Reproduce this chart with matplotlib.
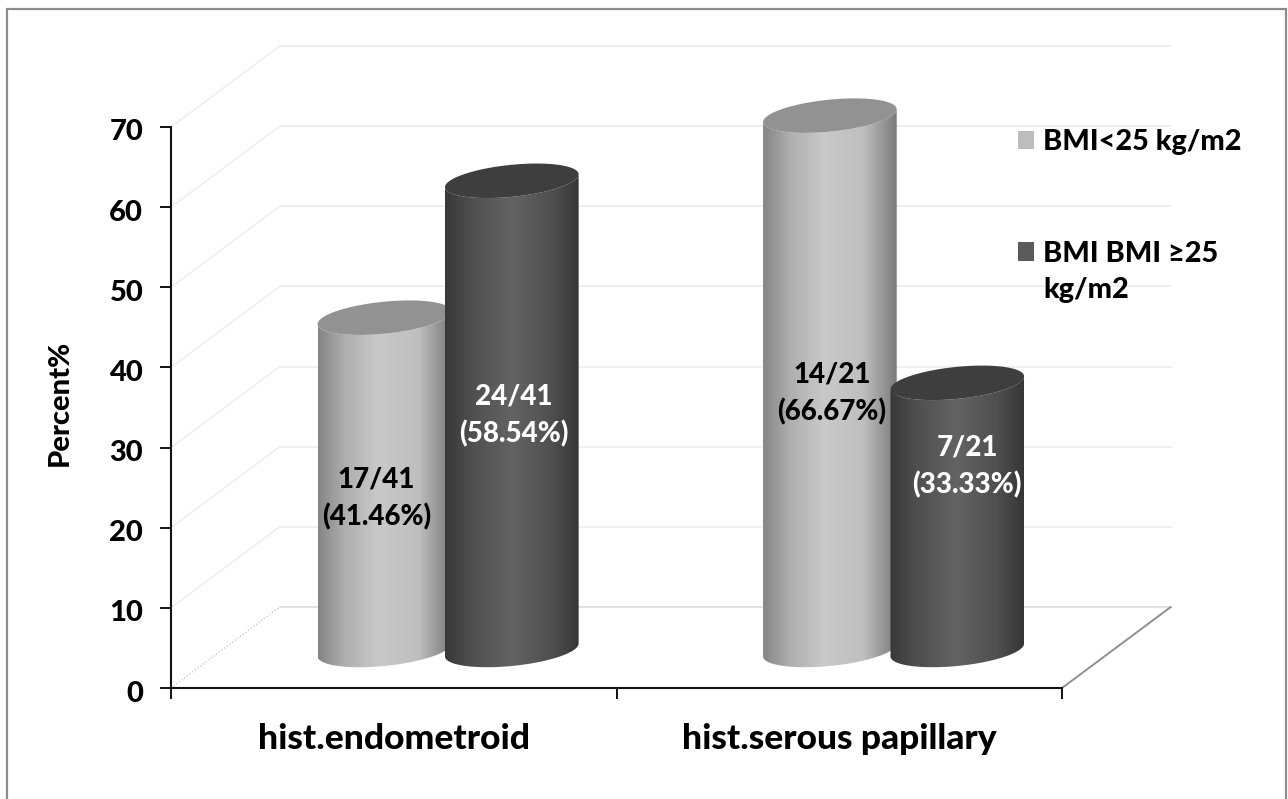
import numpy as np
import matplotlib
matplotlib.use("Agg")
import matplotlib.pyplot as plt
from matplotlib.colors import LinearSegmentedColormap
from matplotlib.patches import Patch, Polygon, Rectangle
from matplotlib.transforms import ScaledTranslation

categories = ['hist.endometroid', 'hist.serous papillary']
series_names = ['BMI<25 kg/m2', 'BMI BMI ≥25\nkg/m2']
low_bmi = [41.46, 66.67]
high_bmi = [58.54, 33.33]
low_labels = ['17/41\n(41.46%)', '14/21\n(66.67%)']
high_labels = ['24/41\n(58.54%)', '7/21\n(33.33%)']
y_ticks = [0, 10, 20, 30, 40, 50, 60, 70]

plt.rcParams['font.family'] = ['Lato', 'DejaVu Sans']
plt.rcParams['font.weight'] = 'bold'

W, H = 1288, 799
fig = plt.figure(figsize=(W / 100, H / 100), dpi=100)
ax = fig.add_axes([171 / W, 1 - 688 / H, 891 / W, 561 / H])
ax.set_xlim(0, 2)
ax.set_ylim(0, 70)

# outer frame of the picture, bottom edge is cut off
fig.add_artist(Rectangle((7 / W, -0.05), 1279 / W, 1.05 - 9 / H, transform=fig.transFigure,
                         fill=False, edgecolor='#8c8c8c', linewidth=1.6))

# fake 3d walls
depth_x = 0.244
depth_y = 10.1
for v in y_ticks:
    back = '#dedede' if v == 0 else '#eeeeee'
    ax.plot([depth_x, 2 + depth_x], [v + depth_y, v + depth_y], color=back, lw=1.3,
            clip_on=False, zorder=1)
    if v == 0:
        ax.plot([0, depth_x], [0, depth_y], color='#c4c4c4', lw=0.9, ls=':', clip_on=False, zorder=1)
    else:
        ax.plot([0, depth_x], [v, v + depth_y], color='#eeeeee', lw=1.2, clip_on=False, zorder=1)
ax.plot([2, 2 + depth_x], [0, depth_y], color='#8f8f8f', lw=1.4, clip_on=False, zorder=1)

light_cmap = LinearSegmentedColormap.from_list('light', [(0, '#858585'), (0.2, '#aeaeae'), (0.45, '#c9c9c9'),
                                                         (0.75, '#bfbfbf'), (1, '#7a7a7a')])
dark_cmap = LinearSegmentedColormap.from_list('dark', [(0, '#383838'), (0.2, '#4f4f4f'), (0.5, '#636363'),
                                                       (0.8, '#4f4f4f'), (1, '#363636')])
half_w = 0.15
minor = 2.0
tilt = 0.8
bar_step = 0.286


def cylinder(cx, base, value, cmap, cap_color, order):
    top = base + value
    t = np.linspace(np.pi, 2 * np.pi, 60)
    ex = cx + half_w * np.cos(t)
    ey = minor * np.sin(t) + tilt * np.cos(t)
    xs = np.r_[ex, ex[::-1]]
    ys = np.r_[base + ey, top + ey[::-1]]
    body = Polygon(np.c_[xs, ys], closed=True, facecolor='none', edgecolor='none', zorder=order)
    ax.add_patch(body)
    body.set_clip_on(False)
    im = ax.imshow(np.linspace(0, 1, 256).reshape(1, -1), cmap=cmap, aspect='auto', zorder=order,
                   extent=(cx - half_w, cx + half_w, base - 4, top + 4), interpolation='bilinear')
    im.set_clip_box(fig.bbox)
    im.set_clip_path(body)
    t = np.linspace(0, 2 * np.pi, 120)
    ax.fill(cx + half_w * np.cos(t), top + minor * np.sin(t) + tilt * np.cos(t), color=cap_color,
            lw=0, zorder=order, clip_on=False)


# label shift against the bar middle, in pixels
low_nudge = [(-8, -15), (2, -11)]
high_nudge = [(2, 0), (10, 50)]
base_y = depth_y * 0.47
order = 3
for i in range(len(categories)):
    mid = i + 0.5 + depth_x / 2
    for j, (vals, labs, nudge, cmap, cap, col) in enumerate([
            (low_bmi, low_labels, low_nudge, light_cmap, '#929292', 'black'),
            (high_bmi, high_labels, high_nudge, dark_cmap, '#3e3e3e', 'white')]):
        cx = mid + (j - 0.5) * bar_step
        cylinder(cx, base_y, vals[i], cmap, cap, order)
        ax.annotate(labs[i], (cx, base_y + vals[i] / 2), xytext=(nudge[i][0] * 0.72, nudge[i][1] * 0.72),
                    textcoords='offset points', ha='center', va='center', color=col, fontsize=20,
                    fontweight='black', linespacing=1.48, zorder=20, annotation_clip=False)
        order += 1
ax.set_xlim(0, 2)
ax.set_ylim(0, 70)

ax.set_yticks(y_ticks)
ax.set_xticks([0, 1, 2], labels=[])
ax.set_xticks([0.5, 1.5], labels=categories, minor=True)
ax.tick_params(axis='y', length=8, width=1.4, pad=12, labelsize=21, color='#111111')
ax.tick_params(axis='x', which='major', length=8, width=1.4, color='#111111')
ax.tick_params(axis='x', which='minor', length=0, pad=25, labelsize=25.5)
for lab in ax.get_yticklabels() + ax.get_xticklabels(minor=True):
    lab.set_fontweight('black')
for lab in ax.get_yticklabels():
    lab.set_transform(lab.get_transform() + ScaledTranslation(0, -3 / 100, fig.dpi_scale_trans))
ax.patch.set_visible(False)
for side in ['top', 'right']:
    ax.spines[side].set_visible(False)
for side in ['left', 'bottom']:
    ax.spines[side].set_linewidth(1.5)
    ax.spines[side].set_color('#111111')
    ax.spines[side].set_zorder(30)
ax.set_ylabel('Percent%', fontsize=21, fontweight='black')
ax.yaxis.set_label_coords(-0.110, 0.509)

handles = [Patch(facecolor='#bdbdbd', label=series_names[0]),
           Patch(facecolor='#5a5a5a', label=series_names[1])]
leg = ax.legend(handles=handles, loc='upper left', bbox_to_anchor=(1018 / W, 1 - 129 / H),
                bbox_transform=fig.transFigure, frameon=False, fontsize=20.8, handlelength=0.55,
                handleheight=0.6, handletextpad=0.33, labelspacing=2.98, borderpad=0, borderaxespad=0)
leg.set_zorder(40)
for txt in leg.get_texts():
    txt.set_fontweight('black')
leg.get_texts()[1].set_linespacing(1.48)
leg.legend_handles[1].set_y(leg.legend_handles[1].get_y() + 15)

fig.savefig('out.png', dpi=100)
